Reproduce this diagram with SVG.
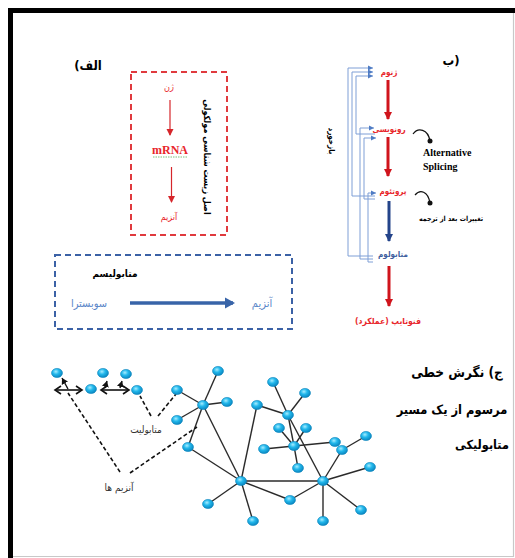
<svg xmlns="http://www.w3.org/2000/svg" width="515" height="558" viewBox="0 0 515 558">
<style>
.fa{font-family:"DejaVu Sans Condensed","DejaVu Sans","Noto Sans",sans-serif;text-anchor:middle}
.b{font-weight:bold}
.red{fill:#E8262B}
.edge{stroke:#2b2b2b;stroke-width:1.4;fill:none}
.dash{stroke:#111;stroke-width:1.6;stroke-dasharray:4,2.5;fill:none}
.fb{stroke:#7E9FD6;stroke-width:1;fill:none}
.nd{fill:url(#ng);stroke:#0E86BE;stroke-width:0.6}
</style>
<defs>
<radialGradient id="ng" cx="40%" cy="35%" r="65%">
<stop offset="0" stop-color="#A6ECFF"/>
<stop offset="0.45" stop-color="#22B8EC"/>
<stop offset="1" stop-color="#0A86C0"/>
</radialGradient>
<marker id="ra" markerWidth="8" markerHeight="8" refX="6" refY="4" orient="auto" markerUnits="userSpaceOnUse"><path d="M0,0.5 L7,4 L0,7.5 Z" fill="#D6262B"/></marker>
<marker id="rb" markerWidth="10" markerHeight="10" refX="7" refY="5" orient="auto" markerUnits="userSpaceOnUse"><path d="M0,1 L8,5 L0,9 Z" fill="#D0141C"/></marker>
<marker id="bb" markerWidth="10" markerHeight="10" refX="7" refY="5" orient="auto" markerUnits="userSpaceOnUse"><path d="M0,1 L8,5 L0,9 Z" fill="#24448A"/></marker>
<marker id="ba" markerWidth="12" markerHeight="12" refX="8" refY="6" orient="auto" markerUnits="userSpaceOnUse"><path d="M0,0.5 L10,6 L0,11.5 Z" fill="#3864A8"/></marker>
<marker id="fa" markerWidth="6" markerHeight="6" refX="5" refY="3" orient="auto" markerUnits="userSpaceOnUse"><path d="M0,0.5 L5,3 L0,5.5 Z" fill="#4F7CC4"/></marker>
<marker id="ka" markerWidth="10" markerHeight="10" refX="7" refY="5" orient="auto-start-reverse" markerUnits="userSpaceOnUse"><path d="M1,1 L7,5 L1,9" fill="none" stroke="#111" stroke-width="1.6"/></marker>
<marker id="ks" markerWidth="8" markerHeight="8" refX="6" refY="4" orient="auto" markerUnits="userSpaceOnUse"><path d="M0,0.5 L6,4 L0,7.5 Z" fill="#111"/></marker>
</defs>
<rect width="515" height="558" fill="#fff"/>
<g id="frame">
<rect x="8" y="8" width="5" height="550" fill="#000"/>
<rect x="8" y="8" width="507" height="5" fill="#000"/>
<line x1="513.5" y1="13" x2="513.5" y2="557" stroke="#c8c8c8" stroke-width="1.2"/>
<line x1="13" y1="556.5" x2="514" y2="556.5" stroke="#c8c8c8" stroke-width="1.2"/>
</g>

<!-- Part A -->
<g id="partA">
<text class="fa b" x="88" y="70" font-size="13">(الف</text>
<rect id="dogmaBox" x="131" y="72" width="96" height="163" fill="none" stroke="#E03A3E" stroke-width="2" stroke-dasharray="6,4"/>
<g id="gene"><text class="fa red" x="169" y="90" font-size="9">ژن</text></g>
<g id="mrna"><text x="170" y="154" font-family="Liberation Serif" font-weight="bold" font-size="12" fill="#E8262B" text-anchor="middle">mRNA</text>
<line x1="153" y1="157" x2="187" y2="157" stroke="#5BAF5B" stroke-width="0.8" stroke-dasharray="1.5,1"/></g>
<g id="enzymeA"><text class="fa red" x="169" y="220" font-size="9">آنزیم</text></g>
<text class="fa b" transform="translate(204,157) rotate(90)" font-size="9">اصل زیست شناسی مولکولی</text>
<g id="metabBox">
<rect x="55" y="255" width="237" height="74" fill="none" stroke="#3C62A6" stroke-width="2" stroke-dasharray="6,4"/>
<text class="fa b" x="115" y="277" font-size="10">متابولیسم</text>
<text class="fa" x="89" y="307" font-size="11" fill="#5A86C8">سوبسترا</text>
<text class="fa" x="262" y="307" font-size="11" fill="#5A86C8">آنزیم</text>
</g>
</g>

<!-- Part B -->
<g id="partB">
<text class="fa b" x="451" y="65" font-size="13">ب)</text>
<g id="genome"><text class="fa b red" x="389" y="75" font-size="8">ژنوم</text></g>
<g id="transcript"><text class="fa b red" x="389" y="132" font-size="8">رونویسی</text></g>
<g id="proteome"><text class="fa b red" x="393" y="194" font-size="8">پروتئوم</text></g>
<g id="metabolome"><text class="fa b" x="393" y="257" font-size="8" fill="#3E5E9E">متابولوم</text></g>
<g id="phenotype"><text class="fa b red" x="388" y="324" font-size="8.5">فنوتایپ (عملکرد)</text></g>
<g id="altSplice"><text x="423" y="156" font-family="Liberation Serif" font-weight="bold" font-size="10">Alternative</text>
<text x="423" y="170" font-family="Liberation Serif" font-weight="bold" font-size="10">Splicing</text></g>
<g id="ptm"><text class="fa b" x="451" y="221" font-size="7">تغییرات بعد از ترجمه</text></g>
<text class="fa b" transform="translate(329,141) rotate(90)" font-size="8">بازخورد</text>
</g>

<!-- Part C -->
<g id="partC">
<text class="fa b" x="457" y="377" font-size="13.5">ج) نگرش خطی</text>
<text class="fa b" x="452" y="414" font-size="12.8">مرسوم از یک مسیر</text>
<text class="fa b" x="482" y="449" font-size="12.5">متابولیکی</text>
<g id="metaboliteLbl"><text class="fa" x="146" y="433" font-size="10" fill="#333">متابولیت</text></g>
<g id="enzymesLbl"><text class="fa" x="119" y="491" font-size="10" fill="#333">آنزیم ها</text></g>
</g>

<g id="connectors">
<!-- part A -->
<line x1="170" y1="100" x2="170" y2="135" stroke="#D6262B" stroke-width="1.2" marker-end="url(#ra)"/>
<line x1="171.5" y1="167" x2="171.5" y2="202" stroke="#D6262B" stroke-width="1.2" marker-end="url(#ra)"/>
<line x1="130" y1="303" x2="233" y2="303" stroke="#3864A8" stroke-width="3.5" marker-end="url(#ba)"/>
<!-- part B main chain -->
<line x1="388" y1="80" x2="388" y2="119" stroke="#D0141C" stroke-width="3" marker-end="url(#rb)"/>
<line x1="388" y1="137" x2="388" y2="176" stroke="#D0141C" stroke-width="3" marker-end="url(#rb)"/>
<line x1="389" y1="201" x2="389" y2="241" stroke="#24448A" stroke-width="3" marker-end="url(#bb)"/>
<line x1="389" y1="266" x2="389" y2="306" stroke="#D0141C" stroke-width="3" marker-end="url(#rb)"/>
<path d="M413,134 C418,127 428,129 430,141" fill="none" stroke="#111" stroke-width="1.2"/>
<circle cx="430" cy="141" r="2.5" fill="#111"/>
<path d="M415,195 C420,189 428,191 430,203" fill="none" stroke="#111" stroke-width="1.2"/>
<circle cx="430" cy="203" r="2.5" fill="#111"/>
<!-- feedback -->
<path class="fb" d="M373,256 H348 V68 H373" marker-end="url(#fa)"/>
<path class="fb" d="M375,196 H352 V72 H373" marker-end="url(#fa)"/>
<path class="fb" d="M375,134 H356 V76 H373" marker-end="url(#fa)"/>
<path class="fb" d="M373,259 H360 V128 H374" marker-end="url(#fa)"/>
<path class="fb" d="M375,199 H364 V138 H376" marker-end="url(#fa)"/>
<path class="fb" d="M373,262 H368 V193 H376" marker-end="url(#fa)"/>
<!-- part C network edges -->
<line class="edge" x1="203" y1="405" x2="177" y2="390"/>
<line class="edge" x1="203" y1="405" x2="218" y2="371"/>
<line class="edge" x1="203" y1="405" x2="227" y2="402"/>
<line class="edge" x1="203" y1="405" x2="177" y2="420"/>
<line class="edge" x1="203" y1="405" x2="188" y2="447"/>
<line class="edge" x1="203" y1="405" x2="241" y2="481"/>
<line class="edge" x1="188" y1="447" x2="241" y2="481"/>
<line class="edge" x1="241" y1="481" x2="257" y2="405"/>
<line class="edge" x1="241" y1="481" x2="323" y2="481"/>
<line class="edge" x1="241" y1="481" x2="290" y2="500"/>
<line class="edge" x1="241" y1="481" x2="208" y2="504"/>
<line class="edge" x1="241" y1="481" x2="253" y2="521"/>
<line class="edge" x1="257" y1="405" x2="288" y2="415"/>
<line class="edge" x1="288" y1="415" x2="273" y2="382"/>
<line class="edge" x1="288" y1="415" x2="305" y2="393"/>
<line class="edge" x1="288" y1="415" x2="294" y2="446"/>
<line class="edge" x1="288" y1="415" x2="323" y2="481"/>
<line class="edge" x1="294" y1="446" x2="279" y2="428"/>
<line class="edge" x1="294" y1="446" x2="306" y2="428"/>
<line class="edge" x1="294" y1="446" x2="264" y2="449"/>
<line class="edge" x1="294" y1="446" x2="298" y2="468"/>
<line class="edge" x1="294" y1="446" x2="335" y2="442"/>
<line class="edge" x1="342" y1="450" x2="366" y2="436"/>
<line class="edge" x1="342" y1="450" x2="323" y2="481"/>
<line class="edge" x1="323" y1="481" x2="290" y2="500"/>
<line class="edge" x1="323" y1="481" x2="370" y2="467"/>
<line class="edge" x1="323" y1="481" x2="361" y2="510"/>
<line class="edge" x1="323" y1="481" x2="323" y2="521"/>
<!-- reaction arrows -->
<line x1="55" y1="390" x2="82" y2="390" stroke="#111" stroke-width="1.6" marker-start="url(#ka)" marker-end="url(#ka)"/>
<line x1="101" y1="390" x2="129" y2="390" stroke="#111" stroke-width="1.6" marker-start="url(#ka)" marker-end="url(#ka)"/>
<line x1="68" y1="389" x2="62" y2="378" stroke="#111" stroke-width="1.4" marker-end="url(#ks)"/>
<line x1="105" y1="388" x2="107" y2="381" stroke="#111" stroke-width="1.4" marker-end="url(#ks)"/>
<line x1="120" y1="388" x2="122" y2="381" stroke="#111" stroke-width="1.4" marker-end="url(#ks)"/>
<!-- dashed label pointers -->
<line class="dash" x1="151" y1="416" x2="140" y2="396"/>
<line class="dash" x1="158" y1="416" x2="176" y2="394"/>
<line class="dash" x1="120" y1="472" x2="68" y2="393"/>
<line class="dash" x1="130" y1="473" x2="197" y2="427"/>
</g>

<g id="nodes">
<ellipse id="n1" class="nd" cx="57" cy="373" rx="5.5" ry="4.6"/>
<ellipse id="n2" class="nd" cx="91" cy="389" rx="5.5" ry="4.6"/>
<ellipse id="n3" class="nd" cx="103" cy="373" rx="5.5" ry="4.6"/>
<ellipse id="n4" class="nd" cx="126" cy="374" rx="5.5" ry="4.6"/>
<ellipse id="n5" class="nd" cx="137" cy="390" rx="5.5" ry="4.6"/>
<ellipse id="a1" class="nd" cx="177" cy="390" rx="5.5" ry="4.6"/>
<ellipse id="a2" class="nd" cx="218" cy="371" rx="5.5" ry="4.6"/>
<ellipse id="h1" class="nd" cx="203" cy="405" rx="5.5" ry="4.6"/>
<ellipse id="a3" class="nd" cx="227" cy="402" rx="5.5" ry="4.6"/>
<ellipse id="a4" class="nd" cx="177" cy="420" rx="5.5" ry="4.6"/>
<ellipse id="a5" class="nd" cx="188" cy="447" rx="5.5" ry="4.6"/>
<ellipse id="h2" class="nd" cx="241" cy="481" rx="5.5" ry="4.6"/>
<ellipse id="b1" class="nd" cx="257" cy="405" rx="5.5" ry="4.6"/>
<ellipse id="b2" class="nd" cx="273" cy="382" rx="5.5" ry="4.6"/>
<ellipse id="b3" class="nd" cx="305" cy="393" rx="5.5" ry="4.6"/>
<ellipse id="h3" class="nd" cx="288" cy="415" rx="5.5" ry="4.6"/>
<ellipse id="b4" class="nd" cx="279" cy="428" rx="5.5" ry="4.6"/>
<ellipse id="b5" class="nd" cx="306" cy="428" rx="5.5" ry="4.6"/>
<ellipse id="h4" class="nd" cx="294" cy="446" rx="5.5" ry="4.6"/>
<ellipse id="b6" class="nd" cx="264" cy="449" rx="5.5" ry="4.6"/>
<ellipse id="b7" class="nd" cx="298" cy="468" rx="5.5" ry="4.6"/>
<ellipse id="b8" class="nd" cx="335" cy="442" rx="5.5" ry="4.6"/>
<ellipse id="b9" class="nd" cx="342" cy="450" rx="5.5" ry="4.6"/>
<ellipse id="b10" class="nd" cx="366" cy="436" rx="5.5" ry="4.6"/>
<ellipse id="h5" class="nd" cx="323" cy="481" rx="5.5" ry="4.6"/>
<ellipse id="b11" class="nd" cx="370" cy="467" rx="5.5" ry="4.6"/>
<ellipse id="b12" class="nd" cx="290" cy="500" rx="5.5" ry="4.6"/>
<ellipse id="b13" class="nd" cx="208" cy="504" rx="5.5" ry="4.6"/>
<ellipse id="b14" class="nd" cx="253" cy="521" rx="5.5" ry="4.6"/>
<ellipse id="b15" class="nd" cx="323" cy="521" rx="5.5" ry="4.6"/>
<ellipse id="b16" class="nd" cx="361" cy="510" rx="5.5" ry="4.6"/>
</g>
</svg>
